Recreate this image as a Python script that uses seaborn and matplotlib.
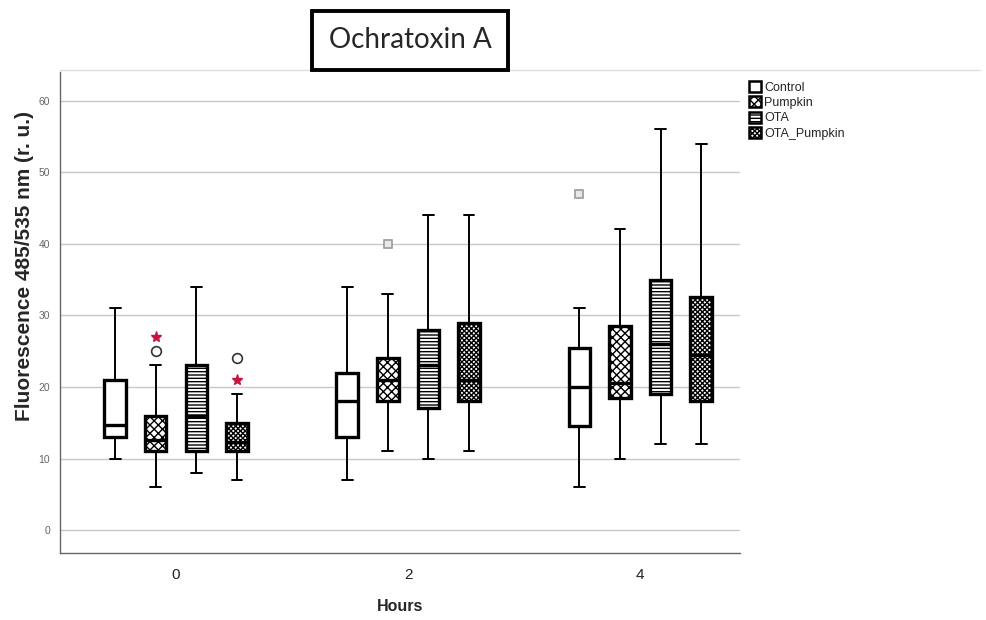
import numpy as np
import pandas as pd
import matplotlib
matplotlib.use("Agg")
import matplotlib.pyplot as plt
import seaborn as sns
from matplotlib.patches import Patch
from matplotlib.lines import Line2D

# ---------------- data ----------------
hours = ["0", "2", "4"]
groups = ["Control", "Pumpkin", "OTA", "OTA_Pumpkin"]

# five-number summaries, one value per hour (0, 2, 4)
whisker_low = {"Control": [10.0, 7.0, 6.0], "Pumpkin": [6.0, 11.0, 10.0],
               "OTA": [8.0, 10.0, 12.0], "OTA_Pumpkin": [7.0, 11.0, 12.0]}
quart1 = {"Control": [13.0, 13.0, 14.5], "Pumpkin": [11.0, 18.0, 18.5],
          "OTA": [11.0, 17.0, 19.0], "OTA_Pumpkin": [11.0, 18.0, 18.0]}
median = {"Control": [14.7, 18.0, 20.0], "Pumpkin": [12.6, 21.0, 20.6],
          "OTA": [16.0, 23.0, 26.0], "OTA_Pumpkin": [12.3, 21.0, 24.5]}
quart3 = {"Control": [21.0, 22.0, 25.5], "Pumpkin": [16.0, 24.0, 28.5],
          "OTA": [23.0, 28.0, 35.0], "OTA_Pumpkin": [15.0, 29.0, 32.5]}
whisker_high = {"Control": [31.0, 34.0, 31.0], "Pumpkin": [23.0, 33.0, 42.0],
                "OTA": [34.0, 44.0, 56.0], "OTA_Pumpkin": [19.0, 44.0, 54.0]}

# outliers: (hour, group, value)
circle_hours = ["0", "0"]
circle_groups = ["Pumpkin", "OTA_Pumpkin"]
circle_values = [25.0, 24.0]
square_hours = ["2", "4"]
square_groups = ["Pumpkin", "Control"]
square_values = [40.0, 47.0]
star_hours = ["0", "0"]
star_groups = ["Pumpkin", "OTA_Pumpkin"]
star_values = [27.0, 21.0]

yticks = [0, 10, 20, 30, 40, 50, 60]

# ---------------- build tables ----------------
rows = []
for g in groups:
    for i, h in enumerate(hours):
        for stat in (whisker_low, quart1, median, quart3, whisker_high):
            rows.append({"Hours": h, "Group": g, "Value": stat[g][i]})
box_df = pd.DataFrame(rows)

def pts(hs, gs, vs):
    return pd.DataFrame({"Hours": hs, "Group": gs, "Value": vs})

# ---------------- figure ----------------
sns.set_theme(style="white")
plt.rcParams["font.family"] = ["Liberation Sans", "DejaVu Sans"]
plt.rcParams["hatch.linewidth"] = 1.0

fig = plt.figure(figsize=(9.87, 6.2), dpi=100)
ax = fig.add_axes([60 / 987, 1 - 553 / 620, 680 / 987, (553 - 72) / 620])

common = dict(x="Hours", y="Value", hue="Group", order=hours, hue_order=groups,
              dodge=True, width=0.7, gap=0.47, legend=False, ax=ax)

sns.boxplot(data=box_df, whis=(0, 100), showfliers=False,
            palette=["white"] * 4, linecolor="black", linewidth=2.2,
            boxprops=dict(linewidth=2.4), medianprops=dict(linewidth=2.4),
            whiskerprops=dict(linewidth=1.4), capprops=dict(linewidth=1.4),
            **common)

hatches = ["", "xxxx", "-----", "xxxxxxx"]
slot = 0.7 / 4
for p in ax.patches:
    ext = p.get_path().get_extents()
    xc = (ext.x0 + ext.x1) / 2
    k = int(round((xc - round(xc)) / slot + 1.5))
    k = min(max(k, 0), 3)
    p.set_hatch(hatches[k])
    p.set_edgecolor("black")

hidden = dict(showbox=False, showcaps=False, whis=(0, 100), showfliers=False,
              whiskerprops=dict(visible=False), medianprops=dict(visible=False),
              showmeans=True, palette=["white"] * 4)

sns.boxplot(data=pts(circle_hours, circle_groups, circle_values),
            meanprops=dict(marker="o", markerfacecolor="white",
                           markeredgecolor="#333333", markersize=7,
                           markeredgewidth=1.2),
            **hidden, **common)
sns.boxplot(data=pts(square_hours, square_groups, square_values),
            meanprops=dict(marker="s", markerfacecolor="#e8e8e8",
                           markeredgecolor="#9a9a9a", markersize=6,
                           markeredgewidth=1.2),
            **hidden, **common)
sns.boxplot(data=pts(star_hours, star_groups, star_values),
            meanprops=dict(marker="*", markerfacecolor="#c8143c",
                           markeredgecolor="#c8143c", markersize=8),
            **hidden, **common)

# ---------------- axes styling ----------------
ax.set_xlim(-0.5, 2.43)
ax.set_ylim(-3.2, 64)
ax.set_yticks(yticks)
ax.set_yticklabels([str(t) for t in yticks], fontsize=7.5, color="#666666")
ax.tick_params(axis="x", labelsize=11, colors="#222222", length=0, pad=11)
ax.tick_params(axis="y", length=0, pad=7)
ax.yaxis.grid(True, color="#c8c8c8", linewidth=1.0)
ax.set_axisbelow(True)
for s in ("top", "right"):
    ax.spines[s].set_visible(False)
ax.spines["left"].set_color("#666666")
ax.spines["bottom"].set_color("#666666")
ax.spines["left"].set_linewidth(1.0)
ax.spines["bottom"].set_linewidth(1.0)

ax.set_xlabel("Hours", fontsize=11.5, fontweight="bold", labelpad=12)
ax.set_ylabel("Fluorescence 485/535 nm (r. u.)", fontsize=15, fontweight="bold")
ax.yaxis.set_label_coords(-0.038, 0.597)

handles = [Patch(facecolor="white", edgecolor="black", hatch=h, linewidth=1.8)
           for h in hatches]
ax.legend(handles, groups, loc="upper left", bbox_to_anchor=(1.0, 1.0),
          frameon=False, fontsize=9, handlelength=1.0, handleheight=1.0,
          handletextpad=0.25, labelspacing=0.2, borderaxespad=0.3)

# frame line at top of chart area
fig.add_artist(Line2D([60 / 987, 980 / 987], [1 - 70 / 620] * 2,
                      color="#dddddd", linewidth=1.0))

fig.text(410 / 987, 1 - 40.5 / 620, "Ochratoxin A", fontsize=20,
         family=["Lato", "DejaVu Sans"], ha="center", va="center",
         bbox=dict(boxstyle="square,pad=0.6", facecolor="white",
                   edgecolor="black", linewidth=2.8))

fig.savefig("out.png", dpi=100, facecolor="white")
